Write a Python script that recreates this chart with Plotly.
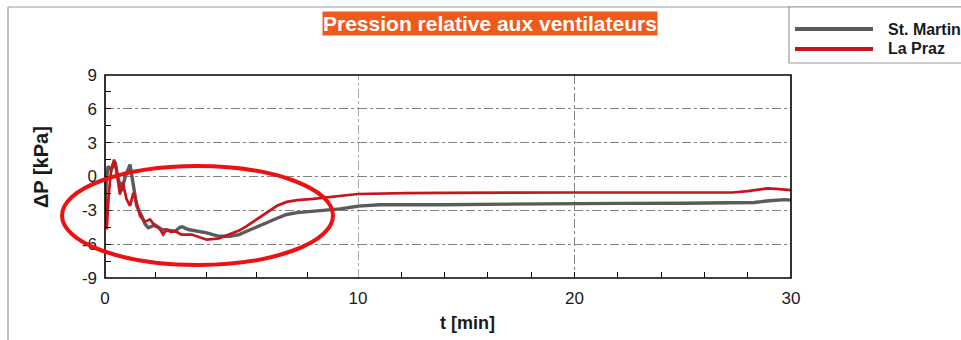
import plotly.graph_objects as go

# ---------------- data ----------------
t_stmartin = [0.0, 0.05, 0.12, 0.25, 0.4, 0.5, 0.66, 0.8, 0.99, 1.12, 1.25,
              1.45, 1.58, 1.71, 1.85, 1.98, 2.24, 2.5, 2.77, 2.96, 3.05, 3.29, 3.55, 3.82, 4.02,
              4.2, 4.5, 4.94, 5.3, 5.6, 6.0, 6.39, 6.8, 7.18, 7.6, 8.23, 8.8, 9.29, 10.0,
              10.7, 11.0, 13.8, 16.0, 18.4, 22.0, 25.0, 27.5, 28.3, 29.0, 29.7, 30.0]
p_stmartin = [-3.0, -0.5, 0.9, 0.6, 1.3, 0.0, -1.3, 0.0, 1.06, -1.0, -2.6,
              -3.5, -4.2, -4.55, -4.4, -4.3, -4.7, -4.8, -4.85, -4.5, -4.45, -4.7, -4.8, -4.85, -5.0,
              -5.1, -5.3, -5.3, -5.15, -4.85, -4.5, -4.1, -3.7, -3.37, -3.2, -3.08, -2.95, -2.87, -2.63,
              -2.5, -2.5, -2.5, -2.45, -2.4, -2.38, -2.37, -2.35, -2.3, -2.15, -2.05, -2.1]

t_lapraz = [0.0, 0.02, 0.05, 0.07, 0.15, 0.25, 0.36, 0.45, 0.59, 0.7, 0.85, 0.99, 1.12, 1.25, 1.38,
            1.58, 1.78, 1.98, 2.15, 2.3, 2.44, 2.6, 2.77, 3.03, 3.43, 3.82, 4.02, 4.5, 4.94, 5.3,
            5.6, 6.0, 6.39, 6.8, 7.18, 7.6, 8.23, 8.8, 9.29, 10.0,
            11.0, 12.2, 14.0, 16.4, 20.0, 24.0, 27.3, 28.0, 28.9, 29.3, 30.0]
p_lapraz = [-1.0, -4.6, -2.0, -4.7, -1.5, 0.7, 1.5, 0.6, -1.6, -0.5, -2.0, -2.6, -1.45, -2.3, -3.5,
            -4.0, -3.8, -4.4, -4.6, -5.15, -4.7, -4.9, -4.85, -5.15, -5.15, -5.45, -5.6, -5.5, -5.15, -4.8,
            -4.4, -3.8, -3.2, -2.6, -2.25, -2.1, -1.98, -1.85, -1.7, -1.55,
            -1.5, -1.48, -1.45, -1.42, -1.42, -1.42, -1.42, -1.3, -1.06, -1.1, -1.2]

series_names = ["St. Martin", "La Praz"]
series_colors = ["#5b5b5b", "#c8141c"]
series_widths = [3.4, 2.7]
y_ticks = [-9, -6, -3, 0, 3, 6, 9]
x_ticks_first = [0]
x_ticks_second = [10, 20, 30]

title_text = "Pression relative aux ventilateurs"
x_title = "t [min]"
y_title = "ΔP [kPa]"

# ---------------- figure ----------------
W, H = 961, 340
L, R, T, B = 105, 791, 75, 278
split = 10.0
d1 = (358 - L) / (R - L)

def px(x):
    return (x - L) / (R - L)

def py(y):
    return (B - y) / (B - T)

fig = go.Figure()

series = [(t_stmartin, p_stmartin), (t_lapraz, p_lapraz)]
for (tt, pp), name, col, lw in zip(series, series_names, series_colors, series_widths):
    seg1 = [(a, b) for a, b in zip(tt, pp) if a <= split]
    seg2 = [(a, b) for a, b in zip(tt, pp) if a >= split]
    fig.add_trace(go.Scatter(x=[a for a, _ in seg1], y=[b for _, b in seg1], mode="lines",
                             name=name, line=dict(color=col, width=lw), xaxis="x", yaxis="y",
                             showlegend=False, legendgroup=name))
    fig.add_trace(go.Scatter(x=[a for a, _ in seg2], y=[b for _, b in seg2], mode="lines",
                             name=name, line=dict(color=col, width=lw), xaxis="x2", yaxis="y",
                             showlegend=False, legendgroup=name))

font_main = "Liberation Sans, Arial, sans-serif"
grid_col = "#808080"

fig.update_layout(
    width=W, height=H,
    margin=dict(l=L, r=W - R, t=T, b=H - B),
    paper_bgcolor="white", plot_bgcolor="white",
    font=dict(family=font_main, size=17, color="#1a1a1a"),
    showlegend=False,
    xaxis=dict(domain=[0, d1], range=[0, split], anchor="y",
               tickmode="array", tickvals=x_ticks_first, ticktext=[str(v) for v in x_ticks_first],
               ticks="inside", ticklen=6, tickwidth=1.2, tickcolor="black", ticklabelstandoff=8,
               minor=dict(dtick=2, tick0=0, ticks="inside", ticklen=6, tickwidth=1.2,
                          tickcolor="black", showgrid=False),
               showgrid=False, zeroline=False, showline=False),
    xaxis2=dict(domain=[d1, 1], range=[split, 30], anchor="y",
                tickmode="array", tickvals=x_ticks_second, ticktext=[str(v) for v in x_ticks_second],
                ticks="inside", ticklen=6, tickwidth=1.2, tickcolor="black", ticklabelstandoff=8,
                minor=dict(dtick=2, tick0=10, ticks="inside", ticklen=6, tickwidth=1.2,
                           tickcolor="black", showgrid=False),
                showgrid=True, gridcolor=grid_col, gridwidth=1.3, griddash="dashdot",
                zeroline=False, showline=False),
    yaxis=dict(range=[-9, 9], anchor="x", tickmode="array", tickvals=y_ticks,
               ticktext=[str(v) for v in y_ticks],
               ticks="inside", ticklen=6, tickwidth=1.2, tickcolor="black", ticklabelstandoff=7,
               minor=dict(dtick=1.5, tick0=0, ticks="inside", ticklen=6, tickwidth=1.2,
                          tickcolor="black", showgrid=False),
               showgrid=True, gridcolor=grid_col, gridwidth=1.3, griddash="dashdot",
               zeroline=False, showline=False),
)

shapes = []
# vertical grid line at the axis break (t = 10)
shapes.append(dict(type="line", xref="x2", yref="paper", x0=split, x1=split, y0=0, y1=1,
                   line=dict(color=grid_col, width=1.3, dash="dashdot"), layer="below"))
# frame around plot area
shapes.append(dict(type="rect", xref="paper", yref="paper", x0=0, x1=1, y0=0, y1=1,
                   line=dict(color="black", width=1.6), layer="above"))
# page border lines (top and left)
shapes.append(dict(type="line", xref="paper", yref="paper", x0=px(8), x1=px(W + 5), y0=py(7), y1=py(7),
                   line=dict(color="#9a9a9a", width=1.2)))
shapes.append(dict(type="line", xref="paper", yref="paper", x0=px(8), x1=px(8), y0=py(7), y1=py(H + 5),
                   line=dict(color="#9a9a9a", width=1.2)))
# legend box
shapes.append(dict(type="rect", xref="paper", yref="paper", x0=px(789), x1=px(W + 20), y0=py(63), y1=py(7),
                   line=dict(color="#9a9a9a", width=1.2), fillcolor="white"))
leg_y = [29, 49]
for name, col, yy in zip(series_names, series_colors, leg_y):
    shapes.append(dict(type="line", xref="paper", yref="paper", x0=px(795), x1=px(873), y0=py(yy), y1=py(yy),
                       line=dict(color=col, width=4)))
# red ellipse highlight
shapes.append(dict(type="circle", xref="paper", yref="paper", x0=px(62), x1=px(333), y0=py(265), y1=py(166),
                   line=dict(color="#ee1111", width=4), layer="above"))
fig.update_layout(shapes=shapes)

annotations = []
annotations.append(dict(text="<b>" + title_text + "</b>", xref="paper", yref="paper", x=px(490), y=py(24),
                        xanchor="center", yanchor="middle", showarrow=False,
                        font=dict(family=font_main, size=21, color="white"),
                        bgcolor="#ef5a1c", borderpad=0))
for name, yy in zip(series_names, leg_y):
    annotations.append(dict(text="<b>" + name + "</b>", xref="paper", yref="paper", x=px(886), y=py(yy),
                            xanchor="left", yanchor="middle", showarrow=False,
                            font=dict(family=font_main, size=16, color="#1a1a1a")))
annotations.append(dict(text="<b>" + x_title + "</b>", xref="paper", yref="paper", x=px(467), y=py(323),
                        xanchor="center", yanchor="middle", showarrow=False,
                        font=dict(family=font_main, size=18, color="#1a1a1a")))
annotations.append(dict(text="<b>" + y_title + "</b>", xref="paper", yref="paper", x=px(41), y=py(167),
                        xanchor="center", yanchor="middle", showarrow=False, textangle=-90,
                        font=dict(family=font_main, size=20, color="#1a1a1a")))
fig.update_layout(annotations=annotations)

fig.write_html("out.html")
